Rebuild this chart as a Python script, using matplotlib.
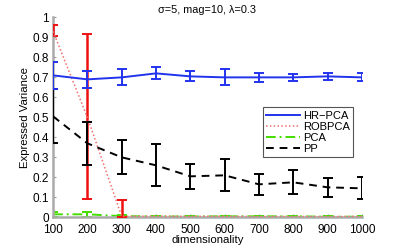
import numpy as np
import matplotlib
matplotlib.use('Agg')
from matplotlib import pyplot as plt
from matplotlib.lines import Line2D

dims = [100, 200, 300, 400, 500, 600, 700, 800, 900, 1000]

hr_mean = [0.71, 0.69, 0.70, 0.72, 0.705, 0.70, 0.70, 0.70, 0.705, 0.70]
hr_err = [0.068, 0.043, 0.04, 0.03, 0.025, 0.04, 0.023, 0.018, 0.018, 0.02]

# ROBPCA error bars only show for the first three dimensions
rob_mean = [0.93, 0.50, 0.005, 0.006, 0.005, 0.005, 0.004, 0.004, 0.004, 0.004]
rob_lo = [0.025, 0.41, 0.005]
rob_hi = [0.03, 0.415, 0.08]

pca_mean = [0.015, 0.015, 0.006, 0.004, 0.004, 0.005, 0.005, 0.005, 0.003, 0.003]
pca_err = [0.012, 0.012, 0.004, 0.003, 0.003, 0.004, 0.004, 0.004, 0.002, 0.002]

pp_mean = [0.505, 0.37, 0.30, 0.26, 0.205, 0.21, 0.165, 0.175, 0.15, 0.145]
pp_err = [0.135, 0.108, 0.085, 0.105, 0.063, 0.08, 0.053, 0.06, 0.048, 0.055]

blue = '#2233ee'
red_bar = '#ee1111'
red_line = '#f07070'
green = '#44dd00'
dash = (0, (4, 3))
dots = (0, (1, 1.5))
dashdot = (0, (5, 2, 1, 2))

plt.rcParams['font.family'] = ['Liberation Sans', 'DejaVu Sans']
fig = plt.figure(figsize=(3.99, 2.45), dpi=100)
ax = fig.add_axes([0.133, 0.113, 0.774, 0.816])

ax.errorbar(dims, hr_mean, yerr=hr_err, color=blue, lw=1.4, capsize=3.5,
            elinewidth=1.4, capthick=1.4, zorder=4)
ax.errorbar(dims[:3], rob_mean[:3], yerr=[rob_lo, rob_hi], fmt='none', ecolor=red_bar,
            elinewidth=1.8, capsize=3.5, capthick=1.4, zorder=3)
ax.plot(dims, rob_mean, color=red_line, lw=1.1, ls=dots, zorder=3)
ax.errorbar(dims, pca_mean, yerr=pca_err, fmt='none', ecolor=green,
            elinewidth=1.4, capsize=3.5, capthick=1.4, zorder=2)
ax.plot(dims, pca_mean, color=green, lw=1.4, ls=dashdot, zorder=2)
ax.errorbar(dims, pp_mean, yerr=pp_err, color='black', lw=1.4, ls=dash,
            capsize=3.5, elinewidth=1.4, capthick=1.4, zorder=3)

ax.set_xlim(100, 1000)
ax.set_ylim(0, 1)
ax.set_xticks(dims)
ax.set_yticks(np.arange(0, 1.01, 0.1))
ax.set_yticklabels(['0', '0.1', '0.2', '0.3', '0.4', '0.5', '0.6', '0.7', '0.8', '0.9', '1'])
ax.tick_params(direction='in', labelsize=8.5, length=2.5, color='#999999')
ax.tick_params(axis='x', pad=5)
ax.tick_params(axis='y', pad=3)
for s in ['top', 'right']:
    ax.spines[s].set_visible(False)
for s in ['left', 'bottom']:
    ax.spines[s].set_color('#aaaaaa')
    ax.spines[s].set_linewidth(1.8)

ax.set_xlabel('dimensionality', fontsize=8.2, labelpad=-1)
ax.set_ylabel('Expressed Variance', fontsize=8.2, labelpad=2)
ax.set_title('\u03c3=5, mag=10, \u03bb=0.3', fontsize=7.8, pad=3)

handles = [
    Line2D([], [], color=blue, lw=1.4),
    Line2D([], [], color=red_line, lw=1.1, ls=dots),
    Line2D([], [], color=green, lw=1.4, ls=dashdot),
    Line2D([], [], color='black', lw=1.4, ls=dash),
]
labels = ['HR\u2212PCA', 'ROBPCA', 'PCA', 'PP']
leg = ax.legend(handles, labels, loc='upper left', bbox_to_anchor=(0.68, 0.55), fontsize=8,
                fancybox=False, framealpha=1, edgecolor='#555555', handlelength=3,
                borderpad=0.3, labelspacing=0.1, handletextpad=0.3, borderaxespad=0)
leg.get_frame().set_linewidth(0.8)

fig.savefig('out.png', dpi=100)
